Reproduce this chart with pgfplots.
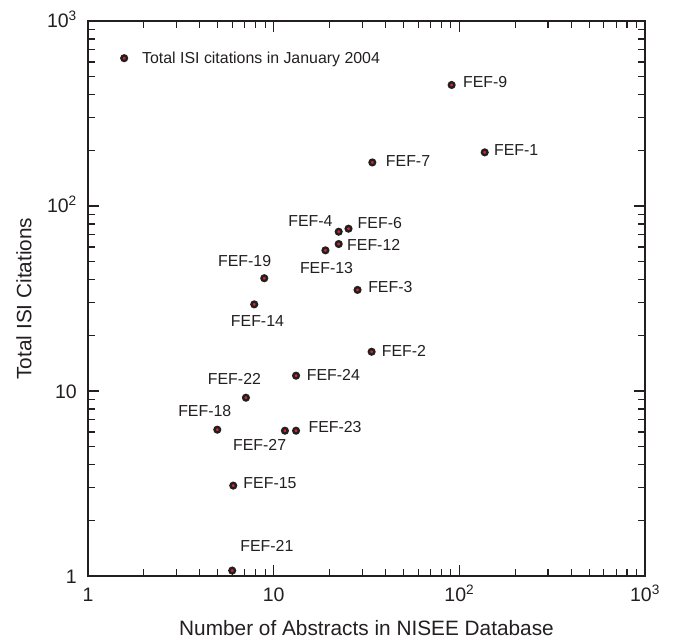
\documentclass[border=0pt]{standalone}
\usepackage{fontspec}
\setmainfont{Liberation Sans}
\usepackage{pgfplots}
\pgfplotsset{compat=1.18}
\usepackage{pgfplotstable}
\usetikzlibrary{calc}

\definecolor{ink}{HTML}{231F20}
\definecolor{dotred}{HTML}{D7262C}

\newcommand{\labelfont}{\fontsize{15.9}{18}\selectfont}
\newcommand{\tickfont}{\fontsize{19.5}{22}\selectfont}
\newcommand{\titlefont}{\fontsize{20.8}{24}\selectfont}

\pgfplotsset{
  dotlegend/.style={legend image code/.code={
      \draw[##1] plot coordinates {(0pt,0pt)};
      \path[draw=none, fill=none] (-4pt,-1pt) rectangle (16pt,1pt);}},
}

% abstracts, citations, label, label offset (pt)
\pgfplotstableread{
x     y     label   dx     dy
90.9  451   FEF-9   33.6   3.3
137   195   FEF-1   31.5   2.8
34    172   FEF-7   35.7   1.5
25.3  75.4  FEF-6   31.3   5.2
22.4  72.6  FEF-4   -28.2  11.2
22.4  62.3  FEF-12  35     -0.9
19    57.6  FEF-13  1.1    -18
28.3  35.2  FEF-3   32.8   2.8
8.9   40.7  FEF-19  -19.6  16.8
7.86  29.4  FEF-14  3.2    -17
33.7  16.3  FEF-2   32.3   0.9
13.2  12.1  FEF-24  37.3   1.2
7.09  9.2   FEF-22  -11.5  19.2
4.97  6.18  FEF-18  -12.5  18.9
11.5  6.1   FEF-27  -25.3  -14.1
13.2  6.1   FEF-23  39     3.2
6.06  3.08  FEF-15  36.7   2.4
5.98  1.07  FEF-21  34.7   24.9
}\fefdata

\begin{document}
\begin{tikzpicture}
\begin{axis}[
  scale only axis,
  width=557pt, height=555pt,
  xmode=log, ymode=log,
  xmin=1, xmax=1000, ymin=1, ymax=1000,
  xtick={1,10,100,1000},
  xticklabels={1,10,10\textsuperscript{2},10\textsuperscript{3}},
  ytick={1,10,100,1000},
  yticklabels={1,10,10\textsuperscript{2},10\textsuperscript{3}},
  minor xtick={2,3,4,5,6,7,8,9,20,30,40,50,60,70,80,90,200,300,400,500,600,700,800,900},
  minor ytick={2,3,4,5,6,7,8,9,20,30,40,50,60,70,80,90,200,300,400,500,600,700,800,900},
  tick align=inside,
  xtick pos=both, ytick pos=both,
  major tick length=11pt, minor tick length=7.5pt,
  every tick/.style={ink, line width=1.2pt},
  axis line style={ink, line width=2pt},
  ticklabel style={font=\tickfont, text=ink, inner sep=0pt},
  xticklabel style={anchor=base, yshift=-25.7pt},
  yticklabel style={anchor=base east, xshift=-11pt, yshift=-7pt},
  xlabel={Number of Abstracts in NISEE Database},
  ylabel={Total ISI Citations},
  every axis x label/.style={at={(rel axis cs:0.5,0)}, yshift=-59.7pt,
    anchor=base, font=\titlefont, text=ink},
  every axis y label/.style={at={(rel axis cs:0,0.5)}, xshift=-64pt,
    rotate=90, anchor=center, font=\titlefont, text=ink},
  legend style={draw=none, fill=none, at={(rel axis cs:0.052,0.933)},
    anchor=west, font=\labelfont, text=ink},
  clip=false,
]
\addplot[only marks, mark=*, mark size=2.8pt,
  mark options={draw=ink, fill=dotred, line width=2.4pt},
  dotlegend,
  nodes near coords, point meta=explicit symbolic,
  visualization depends on={\thisrow{dx}\as\dx},
  visualization depends on={\thisrow{dy}\as\dy},
  every node near coord/.style={anchor=center, inner sep=0pt,
    xshift=\dx pt, yshift=\dy pt, font=\labelfont, text=ink},
] table[x=x, y=y, meta=label] {\fefdata};
\addlegendentry{Total ISI citations in January 2004}
\coordinate (bl) at (rel axis cs:0,0);
\coordinate (tr) at (rel axis cs:1,1);
\end{axis}
\pgfresetboundingbox
\path[use as bounding box] ($(bl)+(-88pt,-65pt)$) rectangle ($(tr)+(30pt,21pt)$);
\end{tikzpicture}
\end{document}
